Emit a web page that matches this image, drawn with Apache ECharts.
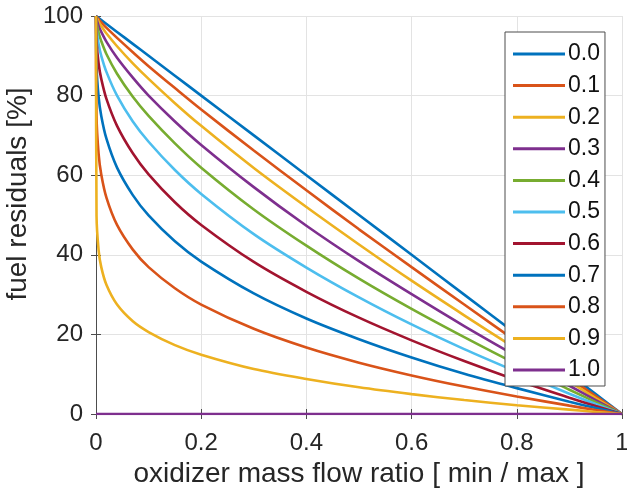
<!DOCTYPE html>
<html>
<head>
<meta charset="utf-8">
<script src="https://cdn.jsdelivr.net/npm/echarts@6/dist/echarts.min.js"></script>
<style>
html,body{margin:0;padding:0;background:#fff;}
#chart{width:627px;height:494px;}
</style>
</head>
<body>
<div id="chart"></div>
<script>
// x positions (oxidizer mass flow ratio)
const xValues = [0, 0.001, 0.005, 0.01, 0.02, 0.04, 0.07, 0.1, 0.15, 0.2, 0.3, 0.4, 0.5, 0.6, 0.7, 0.8, 0.9, 0.95, 1];
// fuel residuals [%] per curve
const r00 = [100, 99.9, 99.5, 99.0, 98.0, 96.0, 93.0, 90.0, 85.0, 80.0, 70.0, 60.0, 50.0, 40.0, 30.0, 20.0, 10.0, 5.0, 0];
const r01 = [100, 99.8, 99.2, 98.4, 97.0, 94.5, 90.9, 87.4, 81.9, 76.5, 66.2, 56.2, 46.4, 36.9, 27.5, 18.2, 9.0, 4.5, 0];
const r02 = [100, 99.6, 98.6, 97.5, 95.6, 92.4, 88.1, 84.2, 78.1, 72.4, 61.8, 52.0, 42.6, 33.5, 24.8, 16.3, 8.1, 4.0, 0];
const r03 = [100, 99.2, 97.5, 96.0, 93.5, 89.5, 84.5, 80.0, 73.5, 67.6, 57.0, 47.3, 38.4, 30.1, 22.1, 14.5, 7.1, 3.5, 0];
const r04 = [100, 98.4, 95.8, 93.7, 90.4, 85.5, 79.7, 74.9, 68.0, 61.9, 51.4, 42.3, 34.0, 26.4, 19.3, 12.5, 6.1, 3.0, 0];
const r05 = [100, 96.8, 92.9, 90.0, 85.9, 80.0, 73.5, 68.4, 61.3, 55.3, 45.2, 36.8, 29.3, 22.5, 16.3, 10.6, 5.1, 2.5, 0];
const r06 = [100, 93.7, 88.0, 84.2, 79.1, 72.4, 65.5, 60.2, 53.2, 47.5, 38.2, 30.7, 24.2, 18.5, 13.3, 8.5, 4.1, 2.0, 0];
const r07 = [100, 87.4, 79.6, 74.9, 69.1, 61.9, 55.0, 49.9, 43.4, 38.3, 30.3, 24.0, 18.8, 14.2, 10.1, 6.5, 3.1, 1.5, 0];
const r08 = [100, 74.9, 65.3, 60.2, 54.3, 47.5, 41.3, 36.9, 31.6, 27.5, 21.4, 16.7, 12.9, 9.7, 6.9, 4.4, 2.1, 1.0, 0];
const r09 = [100, 49.9, 41.1, 36.9, 32.4, 27.5, 23.3, 20.6, 17.3, 14.9, 11.3, 8.8, 6.7, 5.0, 3.5, 2.2, 1.1, 0.5, 0];
const r10 = [0, 0, 0, 0, 0, 0, 0, 0, 0, 0, 0, 0, 0, 0, 0, 0, 0, 0, 0];

const seriesNames = ['0.0', '0.1', '0.2', '0.3', '0.4', '0.5', '0.6', '0.7', '0.8', '0.9', '1.0'];
const seriesValues = [r00, r01, r02, r03, r04, r05, r06, r07, r08, r09, r10];
const xTickLabels = ['0', '0.2', '0.4', '0.6', '0.8', '1'];
const yTickLabels = ['0', '20', '40', '60', '80', '100'];

const colors = ['#0072BD', '#D95319', '#EDB120', '#7E2F8E', '#77AC30', '#4DBEEE', '#A2142F', '#0072BD', '#D95319', '#EDB120', '#7E2F8E'];
const FONT = "'Liberation Sans', Arial, Helvetica, sans-serif";
const TXT = '#262626';
const AX = '#4d4d4d';

const series = seriesNames.map((name, i) => ({
  name: name,
  type: 'line',
  xAxisIndex: 0,
  yAxisIndex: 0,
  data: xValues.map((x, j) => [x, seriesValues[i][j]]),
  showSymbol: false,
  symbol: 'none',
  smooth: 0.3,
  clip: true,
  lineStyle: { width: 2.6, color: colors[i] },
  itemStyle: { color: colors[i] },
  animation: false
}));

const chart = echarts.init(document.getElementById('chart'), null, { renderer: 'canvas' });
chart.setOption({
  animation: false,
  color: colors,
  textStyle: { fontFamily: FONT },
  grid: { left: 96, right: 5, top: 16, bottom: 80, containLabel: false, outerBoundsMode: 'none' },
  legend: {
    orient: 'vertical',
    left: 505,
    top: 32,
    width: 102,
    padding: [10, 5, 4, 8],
    itemGap: 7.6,
    itemWidth: 52,
    itemHeight: 3,
    icon: 'rect',
    backgroundColor: '#ffffff',
    borderColor: AX,
    borderWidth: 1,
    borderRadius: 0,
    textStyle: { fontSize: 23, color: '#111', fontFamily: FONT, lineHeight: 24, padding: [0, 0, 0, -2] },
    data: seriesNames
  },
  xAxis: [{
    type: 'value', position: 'bottom', min: 0, max: 1, interval: 0.2,
    name: 'oxidizer mass flow ratio [ min / max ]',
    nameLocation: 'middle', nameGap: 44,
    nameTextStyle: { fontSize: 28, color: TXT, fontFamily: FONT },
    axisLine: { show: true, lineStyle: { color: AX, width: 1 } },
    axisTick: { show: true, inside: true, length: 5, lineStyle: { color: AX } },
    axisLabel: { fontSize: 24, color: TXT, margin: 17, fontFamily: FONT,
      formatter: v => xTickLabels[Math.round(v / 0.2)] },
    splitLine: { show: true, lineStyle: { color: '#e3e3e3', width: 1 } }
  }, {
    type: 'value', position: 'top', min: 0, max: 1, interval: 0.2,
    axisLine: { show: true, lineStyle: { color: AX, width: 1 } },
    axisTick: { show: true, inside: true, length: 5, lineStyle: { color: AX } },
    axisLabel: { show: false }, splitLine: { show: false }
  }],
  yAxis: [{
    type: 'value', position: 'left', min: 0, max: 100, interval: 20,
    name: 'fuel residuals [%]',
    nameLocation: 'middle', nameGap: 57,
    nameTextStyle: { fontSize: 28, color: TXT, fontFamily: FONT, padding: [0, 0, 0, 42] },
    axisLine: { show: true, lineStyle: { color: AX, width: 1 } },
    axisTick: { show: true, inside: true, length: 5, lineStyle: { color: AX } },
    axisLabel: { fontSize: 24, color: TXT, margin: 13, fontFamily: FONT,
      formatter: v => yTickLabels[Math.round(v / 20)] },
    splitLine: { show: true, lineStyle: { color: '#e3e3e3', width: 1 } }
  }, {
    type: 'value', position: 'right', min: 0, max: 100, interval: 20,
    axisLine: { show: true, lineStyle: { color: AX, width: 1 } },
    axisTick: { show: true, inside: true, length: 5, lineStyle: { color: AX } },
    axisLabel: { show: false }, splitLine: { show: false }
  }],
  series: series
});
</script>
</body>
</html>
